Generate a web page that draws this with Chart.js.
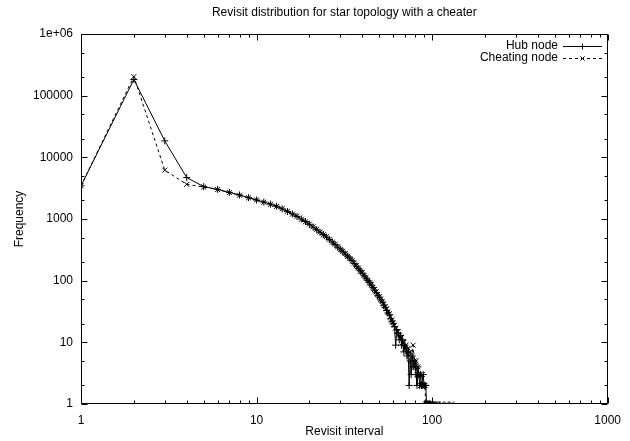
<!DOCTYPE html>
<html>
<head>
<meta charset="utf-8">
<script src="https://cdn.jsdelivr.net/npm/chart.js@4.4.1/dist/chart.umd.min.js"></script>
<style>
  html, body { margin: 0; padding: 0; background: #fff; }
  #wrap { width: 630px; height: 441px; }
</style>
</head>
<body>
<div id="wrap"><canvas id="revisitChart" width="630" height="441"></canvas></div>
<script>
// revisit interval -> frequency
const hubX = [1, 2, 3, 4, 5, 6, 7, 8, 9, 10, 11, 12, 13, 14, 15, 16, 17, 18, 19, 20,
  21, 22, 23, 24, 25, 26, 27, 28, 29, 30, 31, 32, 33, 34, 35, 36, 37, 38, 39, 40,
  41, 42, 43, 44, 45, 46, 47, 48, 49, 50, 51, 52, 53, 54, 55, 56, 57, 58, 59, 60,
  61, 62, 63, 64, 65, 66, 67, 68, 69, 70, 71, 72, 73, 74, 75, 76, 77, 78, 79, 80,
  81, 82, 83, 84, 85, 86, 87, 88, 89, 90, 91, 92, 93, 94, 95, 96, 97, 98];
const hubY = [3450, 183000, 18500, 4700, 3350, 3020, 2700, 2450, 2220, 2030, 1880, 1740, 1610, 1460, 1320, 1210, 1100, 1000, 910, 820,
  740, 670, 610, 560, 510, 465, 425, 385, 350, 325, 295, 270, 250, 232, 212, 190, 172, 158, 145, 132,
  120, 110, 101, 94, 85, 77, 70, 64, 58, 54, 49, 45, 40, 37, 33, 30, 28, 24, 22, 20,
  18, 9, 16, 14, 11, 13, 9, 11, 7, 9, 8, 6, 7, 2, 5, 3, 6, 4, 5, 4,
  3, 2, 4, 3, 2, 3, 2, 2, 3, 2, 2, 2, 1, 1, 1, 1, 1, 1];

const cheatX = [1, 2, 3, 4, 5, 6, 7, 8, 9, 10, 11, 12, 13, 14, 15, 16, 17, 18, 19, 20,
  21, 22, 23, 24, 25, 26, 27, 28, 29, 30, 31, 32, 33, 34, 35, 36, 37, 38, 39, 40,
  41, 42, 43, 44, 45, 46, 47, 48, 49, 50, 51, 52, 53, 54, 55, 56, 57, 58, 59, 60,
  61, 62, 63, 64, 65, 66, 67, 68, 69, 70, 71, 72, 73, 74, 75, 76, 77, 78, 79, 80,
  81, 82, 83, 84, 85, 86, 87, 88, 89, 90, 91, 92, 93, 94, 95, 96, 97, 98, 99, 100,
  102, 104, 106, 108, 113, 121, 129];
const cheatY = [3450, 204000, 6200, 3650, 3300, 3000, 2680, 2430, 2200, 2040, 1870, 1730, 1600, 1470, 1330, 1200, 1110, 990, 900, 830,
  750, 680, 615, 555, 515, 470, 420, 390, 355, 320, 300, 275, 248, 228, 210, 193, 175, 160, 143, 135,
  122, 112, 100, 92, 86, 78, 72, 66, 60, 55, 50, 46, 42, 38, 35, 31, 29, 26, 23, 21,
  19, 17, 15, 15, 13, 12, 12, 10, 10, 8, 9, 7, 8, 6, 7, 5, 6, 9, 5, 4,
  5, 3, 4, 3, 3, 2, 2, 3, 2, 2, 2, 1, 1, 1, 1, 1, 1, 1, 1, 1,
  1, 1, 1, 1, 1, 1, 1];

const xTicks = [1, 2, 3, 4, 5, 6, 7, 8, 9, 10, 20, 30, 40, 50, 60, 70, 80, 90, 100,
  200, 300, 400, 500, 600, 700, 800, 900, 1000];
const yTicks = [1, 2, 5, 10, 20, 50, 100, 200, 500, 1000, 2000, 5000, 10000, 20000, 50000,
  100000, 200000, 500000, 1000000];
const xLabels = { 1: '1', 10: '10', 100: '100', 1000: '1000' };
const yLabels = { 1: '1', 10: '10', 100: '100', 1000: '1000', 10000: '10000', 100000: '100000', 1000000: '1e+06' };

const FONT = 'Liberation Sans, Arial, Helvetica, sans-serif';

const toPoints = (xs, ys) => xs.map((x, i) => ({ x: x, y: ys[i] }));

const isMajor = v => Math.abs(Math.log10(v) - Math.round(Math.log10(v))) < 1e-9;

// gnuplot style frame, inward ticks on all sides, and the key
const framePlugin = {
  id: 'frame',
  afterDraw(chart) {
    const { ctx, chartArea: a, scales } = chart;
    const L = Math.round(a.left) + 0.5, R = Math.round(a.right) - 0.5;
    const T = Math.round(a.top) + 0.5, B = Math.round(a.bottom) - 0.5;
    ctx.save();
    ctx.strokeStyle = '#000';
    ctx.lineWidth = 1;
    ctx.beginPath();
    ctx.rect(L, T, R - L, B - T);
    xTicks.forEach(v => {
      const px = Math.round(scales.x.getPixelForValue(v)) + 0.5;
      const len = isMajor(v) ? 6 : 3;
      ctx.moveTo(px, B); ctx.lineTo(px, B - len);
      ctx.moveTo(px, T); ctx.lineTo(px, T + len);
    });
    yTicks.forEach(v => {
      const py = Math.round(scales.y.getPixelForValue(v)) + 0.5;
      const len = isMajor(v) ? 6 : 3;
      ctx.moveTo(L, py); ctx.lineTo(L + len, py);
      ctx.moveTo(R, py); ctx.lineTo(R - len, py);
    });
    ctx.stroke();

    // key
    ctx.font = '12px ' + FONT;
    ctx.fillStyle = '#000';
    ctx.textAlign = 'right';
    ctx.textBaseline = 'middle';
    const keys = [
      { label: 'Hub node', y: 46, dash: [], style: 'cross' },
      { label: 'Cheating node', y: 58, dash: [3, 3], style: 'crossRot' }
    ];
    keys.forEach(k => {
      ctx.fillText(k.label, 558, k.y);
      ctx.beginPath();
      ctx.setLineDash(k.dash);
      ctx.moveTo(563, k.y + 0.5);
      ctx.lineTo(602, k.y + 0.5);
      ctx.stroke();
      ctx.setLineDash([]);
      Chart.helpers.drawPoint(ctx, { pointStyle: k.style, radius: 3, borderWidth: 1 }, 582.5, k.y + 0.5);
    });
    ctx.restore();
  }
};

new Chart(document.getElementById('revisitChart'), {
  type: 'line',
  data: {
    datasets: [
      {
        label: 'Hub node',
        data: toPoints(hubX, hubY),
        borderColor: '#000',
        backgroundColor: '#000',
        borderWidth: 1,
        pointStyle: 'cross',
        pointRadius: 3.5,
        pointBorderWidth: 1,
        tension: 0
      },
      {
        label: 'Cheating node',
        data: toPoints(cheatX, cheatY),
        borderColor: '#000',
        backgroundColor: '#000',
        borderWidth: 1,
        borderDash: [3, 3],
        pointStyle: 'crossRot',
        pointRadius: 3.5,
        pointBorderWidth: 1,
        tension: 0
      }
    ]
  },
  options: {
    responsive: false,
    animation: false,
    devicePixelRatio: 1,
    layout: { padding: { left: 0, right: 14, top: 0, bottom: 0 } },
    plugins: {
      legend: { display: false },
      tooltip: { enabled: false },
      title: {
        display: true,
        fullSize: false,
        text: 'Revisit distribution for star topology with a cheater',
        color: '#000',
        font: { family: FONT, size: 12, weight: 'normal' },
        padding: { top: 5, bottom: 14.6 }
      }
    },
    scales: {
      x: {
        type: 'logarithmic',
        min: 1,
        max: 1000,
        afterBuildTicks: s => { s.ticks = xTicks.map(v => ({ value: v })); },
        afterFit: s => { s.height = 37; },
        grid: { display: false, drawTicks: false },
        border: { display: false },
        ticks: {
          autoSkip: false,
          maxRotation: 0,
          padding: 9,
          color: '#000',
          font: { family: FONT, size: 12 },
          callback: v => xLabels[v] || ''
        },
        title: {
          display: true,
          text: 'Revisit interval',
          color: '#000',
          font: { family: FONT, size: 12 },
          padding: { top: 0, bottom: 2 }
        }
      },
      y: {
        type: 'logarithmic',
        min: 1,
        max: 1000000,
        afterBuildTicks: s => { s.ticks = yTicks.map(v => ({ value: v })); },
        afterFit: s => { s.width = 81; },
        grid: { display: false, drawTicks: false },
        border: { display: false },
        ticks: {
          autoSkip: false,
          padding: 8,
          color: '#000',
          font: { family: FONT, size: 12 },
          callback: v => yLabels[v] || ''
        },
        title: {
          display: true,
          text: 'Frequency',
          color: '#000',
          font: { family: FONT, size: 12 },
          padding: { top: 12, bottom: 0 }
        }
      }
    }
  },
  plugins: [framePlugin]
});
</script>
</body>
</html>
